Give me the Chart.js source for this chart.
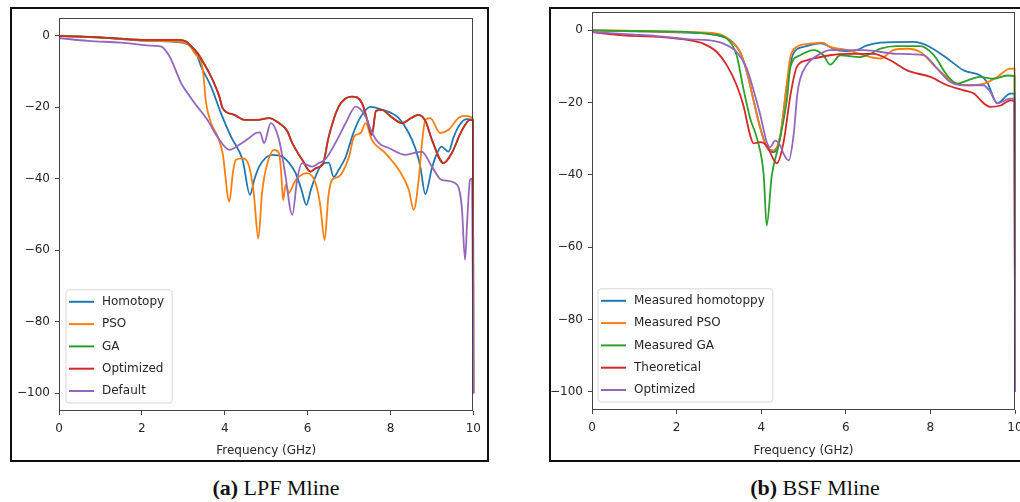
<!DOCTYPE html>
<html><head><meta charset="utf-8">
<script src="https://cdn.jsdelivr.net/npm/chart.js@4.4.1/dist/chart.umd.min.js"></script>
<style>
html,body{margin:0;padding:0;background:#fff;width:1020px;height:502px;overflow:hidden;position:relative;}
.box{position:absolute;border:2px solid #111;box-sizing:border-box;}
#boxA{left:10px;top:7px;width:479px;height:455px;}
#boxB{left:549px;top:7px;width:500px;height:455px;}
canvas{position:absolute;top:0;}
#cA{left:0;}
#cB{left:540px;}
.cap{position:absolute;top:476px;font-family:"Liberation Serif","DejaVu Serif",serif;font-size:22px;line-height:24px;color:#111;white-space:nowrap;transform:translateX(-50%);}
</style></head>
<body>
<div class="box" id="boxA"></div>
<div class="box" id="boxB"></div>
<canvas id="cA" width="488" height="460"></canvas>
<canvas id="cB" width="500" height="460"></canvas>
<div class="cap" style="left:276px"><b>(a)</b> LPF Mline</div>
<div class="cap" style="left:815px"><b>(b)</b> BSF Mline</div>
<script>
// ---------- data ----------
const xTicks = [0, 2, 4, 6, 8, 10];
const yTicks = [-100, -80, -60, -40, -20, 0];
const xTitle = 'Frequency (GHz)';
const lpfNames = ['Homotopy', 'PSO', 'GA', 'Optimized', 'Default'];
const bsfNames = ['Measured homotoppy', 'Measured PSO', 'Measured GA', 'Theoretical', 'Optimized'];

const lpfHomotopy = [[0,0],[1,-0.5],[2,-1.3],[2.8,-1.7],[3.1,-2.3],[3.3,-4.5],[3.43,-8.6],[3.67,-14.2],[3.91,-21.7],[4.15,-28.2],[4.43,-34.7],[4.61,-44.5],[4.72,-40],[4.83,-36.6],[5.0,-34],[5.15,-33.3],[5.39,-33.8],[5.55,-35.5],[5.71,-38.4],[5.85,-43],[5.97,-47.3],[6.08,-43],[6.19,-39.4],[6.36,-35.8],[6.51,-35.5],[6.63,-39.5],[6.75,-37.5],[6.92,-33.9],[7.08,-28],[7.24,-23.5],[7.52,-19.9],[7.8,-20.7],[8.0,-21.5],[8.2,-23],[8.44,-27.2],[8.6,-31.5],[8.72,-36.6],[8.84,-44.3],[9.0,-37],[9.1,-33.5],[9.23,-31],[9.4,-32.4],[9.52,-28.5],[9.64,-25.4],[9.83,-23.3],[9.99,-23.6],[10,-100]];
const lpfPSO = [[0,0],[1,-0.5],[2,-1.3],[2.8,-1.6],[3.1,-2.2],[3.27,-4.8],[3.47,-9.5],[3.55,-18.8],[3.67,-24.4],[3.83,-28.2],[3.95,-32.9],[4.11,-46.4],[4.2,-38],[4.27,-34.7],[4.43,-34.3],[4.59,-36.6],[4.7,-44],[4.81,-56.7],[4.9,-44],[4.99,-37.5],[5.19,-31.9],[5.31,-32.8],[5.36,-38],[5.41,-46],[5.47,-41.7],[5.55,-44],[5.67,-41.2],[5.79,-39.4],[5.99,-38.4],[6.19,-41.2],[6.3,-47],[6.41,-57.1],[6.5,-45],[6.59,-40.3],[6.75,-39.4],[7.0,-33.8],[7.12,-28.2],[7.28,-27.2],[7.4,-24.4],[7.55,-29.1],[7.88,-32.9],[8.2,-37.5],[8.44,-43],[8.56,-48.7],[8.68,-40.3],[8.76,-30],[8.84,-23.5],[8.96,-23],[9.2,-27.2],[9.4,-26.3],[9.64,-23],[9.8,-22.4],[9.99,-23.2],[10,-100]];
const lpfGA = [[0,0],[1,-0.4],[2,-1.1],[2.9,-1.1],[3.07,-1.6],[3.2,-3],[3.35,-4.9],[3.5,-7.8],[3.67,-11.4],[3.87,-17],[3.95,-20.3],[4.23,-22.1],[4.47,-23.5],[4.8,-23.5],[5.07,-23],[5.31,-24.4],[5.5,-26.5],[5.63,-30],[5.87,-34.7],[6.07,-38],[6.2,-37],[6.36,-36.1],[6.51,-28.2],[6.75,-19.8],[7.07,-17],[7.31,-18.8],[7.45,-24],[7.55,-27.7],[7.65,-21],[7.79,-20.7],[8.0,-22.5],[8.28,-24.4],[8.5,-23],[8.68,-22.1],[8.85,-24],[9.0,-29.1],[9.28,-35.6],[9.48,-32.8],[9.7,-27],[9.92,-23.5],[9.99,-23.7],[10,-100]];
const lpfOptimized = [[0,0],[1,-0.4],[2,-1.1],[2.9,-1.1],[3.07,-1.6],[3.2,-3],[3.35,-4.9],[3.5,-7.8],[3.67,-11.4],[3.87,-17],[3.95,-20.3],[4.23,-22.1],[4.47,-23.5],[4.8,-23.5],[5.07,-23],[5.31,-24.4],[5.5,-26.5],[5.63,-30],[5.87,-34.7],[6.07,-38],[6.2,-37],[6.36,-36.1],[6.51,-28.2],[6.75,-19.8],[7.07,-17],[7.31,-18.8],[7.45,-24],[7.55,-27.7],[7.65,-21],[7.79,-20.7],[8.0,-22.5],[8.28,-24.4],[8.5,-23],[8.68,-22.1],[8.85,-24],[9.0,-29.1],[9.28,-35.6],[9.48,-32.8],[9.7,-27],[9.92,-23.5],[9.99,-23.7],[10,-100]];
const lpfDefault = [[0,-0.6],[0.7,-1.4],[1.5,-1.9],[2.3,-2.8],[2.47,-3],[2.6,-4.5],[2.71,-6.7],[2.95,-13.3],[3.1,-16],[3.27,-18.8],[3.58,-23.5],[3.82,-28.2],[4.11,-31.9],[4.35,-30.5],[4.6,-28.5],[4.75,-27.2],[4.85,-27],[4.95,-30],[5.11,-24.4],[5.31,-29.1],[5.45,-38],[5.63,-50.1],[5.75,-40],[5.87,-35.6],[6.11,-36.6],[6.27,-35.6],[6.43,-34.5],[6.67,-30],[6.92,-24.4],[7.16,-19.8],[7.4,-22.6],[7.55,-27],[7.72,-30],[7.96,-31.4],[8.36,-33.3],[8.75,-32.4],[9.0,-36.6],[9.23,-40.3],[9.56,-41.2],[9.72,-47.8],[9.8,-62.7],[9.85,-52],[9.92,-40.3],[9.97,-40],[10,-100]];

const bsfHomotoppy = [[0,0],[1,-0.3],[2,-0.6],[2.8,-1],[3.1,-1.8],[3.3,-3],[3.5,-6],[3.66,-11.5],[3.81,-18.9],[3.98,-27.1],[4.13,-32.3],[4.29,-33.7],[4.45,-29.5],[4.61,-14.8],[4.76,-6.4],[5.0,-4.6],[5.4,-3.6],[5.79,-5.5],[6.1,-5.8],[6.26,-5.5],[6.5,-4.2],[6.82,-3.4],[7.6,-3.2],[7.92,-4.2],[8.4,-7.8],[8.79,-11.1],[9.18,-12.5],[9.34,-14.3],[9.58,-20.2],[9.89,-17.5],[9.99,-17.5],[10,-100]];
const bsfPSO = [[0,0],[1,-0.2],[2.32,-0.5],[2.95,-0.9],[3.27,-2.8],[3.5,-6],[3.66,-11.5],[3.81,-18.9],[3.98,-27.1],[4.13,-32.3],[4.29,-33.2],[4.45,-29.1],[4.61,-14.3],[4.69,-7.4],[4.84,-4.6],[5.16,-3.7],[5.44,-3.4],[5.63,-4.6],[6.03,-5.5],[6.58,-7.4],[6.82,-7.8],[7.12,-5.5],[7.45,-5.1],[7.76,-6],[8.16,-10.6],[8.55,-14.3],[8.87,-15.2],[9.25,-14.8],[9.58,-12.9],[9.89,-10.6],[9.99,-10.6],[10,-100]];
const bsfGA = [[0,0],[1,-0.2],[2.3,-0.5],[2.87,-1.2],[3.19,-2.3],[3.42,-6.9],[3.58,-16.2],[3.74,-24.4],[3.9,-29.9],[4.06,-40.2],[4.13,-54],[4.25,-40.2],[4.41,-31.9],[4.61,-18.9],[4.69,-10.2],[4.92,-6.9],[5.24,-5.5],[5.47,-6.9],[5.63,-9.5],[5.87,-6.9],[6.34,-7.4],[6.58,-6.5],[6.82,-5.1],[7.21,-4.4],[7.76,-4.4],[8.08,-6.9],[8.4,-12.5],[8.63,-14.8],[8.87,-13.9],[9.18,-12.9],[9.49,-13.4],[9.82,-12.5],[9.99,-12.7],[10,-100]];
const bsfTheoretical = [[0,-0.5],[0.74,-1.4],[1.53,-1.8],[2.32,-2.8],[2.63,-3.7],[2.95,-6],[3.19,-9.7],[3.42,-15.2],[3.58,-20.8],[3.74,-29.1],[3.82,-31.3],[3.98,-30.9],[4.13,-31.9],[4.37,-36.8],[4.53,-30.9],[4.69,-18],[4.84,-10.2],[5.08,-8.3],[5.24,-7.8],[5.63,-6.9],[6.03,-6.5],[6.66,-6.5],[7.05,-8.3],[7.45,-11.1],[8.0,-12.9],[8.4,-15.2],[8.79,-16.6],[9.03,-17.5],[9.26,-20.2],[9.42,-21.2],[9.66,-20.8],[9.89,-19.4],[9.99,-19.7],[10,-100]];
const bsfOptimized = [[0,-0.5],[1,-1.2],[1.53,-1.6],[2.32,-2.5],[2.79,-2.8],[3.11,-3.7],[3.42,-6],[3.66,-10.6],[3.81,-16.2],[3.98,-23.5],[4.13,-30.9],[4.21,-32.3],[4.33,-30.5],[4.45,-31.9],[4.53,-34.2],[4.65,-36],[4.77,-28.6],[4.85,-18],[4.92,-13.5],[5.08,-9.5],[5.4,-6.5],[5.63,-5.5],[6.42,-5.5],[7.21,-6.5],[7.84,-6.9],[8.16,-10.6],[8.47,-14.3],[8.79,-15.2],[9.25,-15.2],[9.42,-17.1],[9.58,-20.2],[9.89,-18.9],[9.99,-19],[10,-100]];

// ---------- styling ----------
const colors = ['#1f77b4', '#ff7f0e', '#2ca02c', '#d62728', '#9467bd'];
const FONT = '"DejaVu Sans", "Liberation Sans", sans-serif';
const TXT = '#262626';
const fmt = v => v < 0 ? '\u2212' + Math.abs(v) : String(v);

const framePlugin = {
  id: 'frame',
  afterDatasetsDraw(chart) {
    const c = chart.ctx, a = chart.chartArea;
    c.save();
    c.strokeStyle = '#444'; c.lineWidth = 1;
    c.strokeRect(Math.round(a.left) + 0.5, Math.round(a.top) + 0.5, Math.round(a.right - a.left) - 1, Math.round(a.bottom - a.top) - 1);
    c.restore();
  }
};

const legendPlugin = {
  id: 'innerLegend',
  afterDraw(chart, args, opts) {
    const c = chart.ctx, a = chart.chartArea, ds = chart.data.datasets;
    c.save();
    c.font = '12px ' + FONT;
    const maxW = Math.max(...ds.map(d => c.measureText(d.label).width));
    const pitch = 22.3;
    const w = 36 + maxW + 8, h = 24 + pitch * (ds.length - 1);
    const x0 = a.left + opts.dx, y0 = a.bottom - opts.dy - h;
    c.beginPath();
    const r = 3;
    c.moveTo(x0 + r, y0); c.lineTo(x0 + w - r, y0); c.quadraticCurveTo(x0 + w, y0, x0 + w, y0 + r);
    c.lineTo(x0 + w, y0 + h - r); c.quadraticCurveTo(x0 + w, y0 + h, x0 + w - r, y0 + h);
    c.lineTo(x0 + r, y0 + h); c.quadraticCurveTo(x0, y0 + h, x0, y0 + h - r);
    c.lineTo(x0, y0 + r); c.quadraticCurveTo(x0, y0, x0 + r, y0);
    c.closePath();
    c.fillStyle = 'rgba(255,255,255,0.8)'; c.fill();
    c.strokeStyle = '#d6d6d6'; c.lineWidth = 1; c.stroke();
    ds.forEach((d, i) => {
      const cy = y0 + 12 + i * pitch;
      c.strokeStyle = d.borderColor; c.lineWidth = 2;
      c.beginPath(); c.moveTo(x0 + 3, cy); c.lineTo(x0 + 28, cy); c.stroke();
      c.fillStyle = TXT; c.textBaseline = 'middle'; c.textAlign = 'left';
      c.fillText(d.label, x0 + 36, cy);
    });
    c.restore();
  }
};

function makeChart(id, series, names, geo) {
  const datasets = series.map((s, i) => ({
    label: names[i],
    data: s.map(p => ({ x: p[0], y: p[1] })),
    borderColor: colors[i],
    backgroundColor: colors[i],
    borderWidth: 1.8,
    pointRadius: 0,
    fill: false,
    clip: 3,
    cubicInterpolationMode: 'monotone',
    order: series.length - i
  }));
  const axisCommon = {
    type: 'linear',
    grid: { display: true, drawOnChartArea: false, drawTicks: true, tickLength: 4, color: '#444' },
    border: { display: false },
    ticks: { color: TXT, font: { family: FONT, size: 12 }, maxRotation: 0, autoSkip: false, callback: v => fmt(v) }
  };
  return new Chart(document.getElementById(id), {
    type: 'line',
    data: { datasets },
    options: {
      responsive: false, animation: false, events: [],
      layout: { padding: { left: 0, right: geo.padR, top: geo.padT, bottom: 0 } },
      plugins: { legend: { display: false }, tooltip: { enabled: false }, innerLegend: { dx: geo.dx, dy: 8 } },
      scales: {
        x: Object.assign({}, axisCommon, {
          min: 0, max: 10,
          afterFit: s => { s.height = geo.xH; },
          afterBuildTicks: s => { s.ticks = xTicks.map(v => ({ value: v })); },
          ticks: Object.assign({}, axisCommon.ticks, { padding: 7 }),
          title: { display: true, text: xTitle, color: TXT, font: { family: FONT, size: 12 }, padding: { top: 0, bottom: 2 } }
        }),
        y: Object.assign({}, axisCommon, {
          min: -105, max: 5,
          afterFit: s => { s.width = geo.yW; },
          afterBuildTicks: s => { s.ticks = yTicks.map(v => ({ value: v })); },
          ticks: Object.assign({}, axisCommon.ticks, { padding: 5 })
        })
      }
    },
    plugins: [framePlugin, legendPlugin]
  });
}

makeChart('cA', [lpfHomotopy, lpfPSO, lpfGA, lpfOptimized, lpfDefault], lpfNames,
  { yW: 59, padT: 18, padR: 13, xH: 49, dx: 7 });
makeChart('cB', [bsfHomotoppy, bsfPSO, bsfGA, bsfTheoretical, bsfOptimized], bsfNames,
  { yW: 52, padT: 12, padR: 25, xH: 50, dx: 6 });
</script>
</body></html>
